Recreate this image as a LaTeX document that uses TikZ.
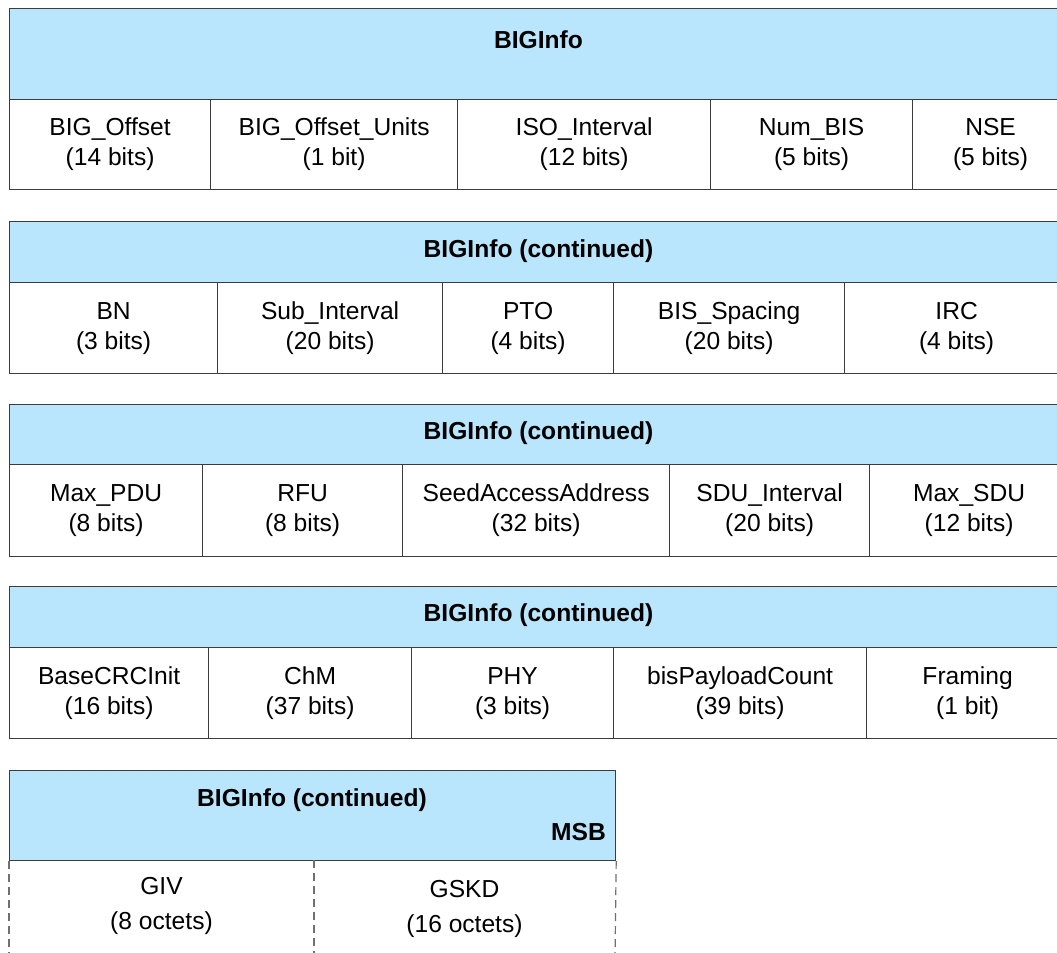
\documentclass[tikz,border=0pt]{standalone}
\usepackage{fontspec}
\setmainfont{Liberation Sans}
\usepackage{tikz}
\usetikzlibrary{positioning}
\definecolor{hdrblue}{HTML}{B9E6FC}
\definecolor{cellline}{HTML}{3C3C3C}
\definecolor{gapgray}{HTML}{707070}

\begin{document}
\begin{tikzpicture}[x=0.5pt,y=-0.5pt]
\tikzstyle{fieldcell}=[draw=cellline,line width=0.6pt,align=center,inner sep=0pt,font=\fontsize{12.3}{15}\selectfont,anchor=north west]
\tikzstyle{headerbar}=[fieldcell,fill=hdrblue]
\tikzstyle{headertitle}=[inner sep=0pt,font=\fontsize{12.3}{15}\selectfont\bfseries]
\tikzstyle{octetfield}=[align=center,inner sep=0pt,font=\fontsize{12.3}{17.5}\selectfont]
\tikzstyle{gapline}=[draw=gapgray,line width=0.6pt,dash pattern=on 4pt off 2.5pt]
\newcommand{\bigfield}[6]{%
\node[fieldcell,minimum width={(#3-#2)*0.5pt},minimum height={(#5-#4)*0.5pt}] (#1) at (#2,#4) {#6};
}
\newcommand{\bigheader}[4]{%
\node[headerbar,minimum width={(#2-9)*0.5pt},minimum height={(#4-#3)*0.5pt}] (#1) at (9,#3) {};
}
\useasboundingbox (0,0) rectangle (1057,953);
\clip (0,0) rectangle (1057,953);

% first word
\bigheader{hdrA}{1068}{8}{99}
\node[headertitle] (titleA) at (538.5,40) {BIGInfo};
\bigfield{offset}{9}{210}{99}{189}{BIG\_Offset\\(14 bits)}
\bigfield{offsetunits}{210}{457}{99}{189}{BIG\_Offset\_Units\\(1 bit)}
\bigfield{isointerval}{457}{710}{99}{189}{ISO\_Interval\\(12 bits)}
\bigfield{numbis}{710}{912}{99}{189}{Num\_BIS\\(5 bits)}
\bigfield{nse}{912}{1068}{99}{189}{NSE\\(5 bits)}

% second word
\bigheader{hdrB}{1068}{221}{282}
\node[headertitle] (titleB) at (538.5,251) {BIGInfo (continued)};
\bigfield{bn}{9}{217}{282}{373}{BN\\(3 bits)}
\bigfield{subinterval}{217}{442}{282}{373}{Sub\_Interval\\(20 bits)}
\bigfield{pto}{442}{613}{282}{373}{PTO\\(4 bits)}
\bigfield{bisspacing}{613}{844}{282}{373}{BIS\_Spacing\\(20 bits)}
\bigfield{irc}{844}{1068}{282}{373}{IRC\\(4 bits)}

% third word
\bigheader{hdrC}{1068}{404}{464}
\node[headertitle] (titleC) at (538.5,433) {BIGInfo (continued)};
\bigfield{maxpdu}{9}{202}{464}{556}{Max\_PDU\\(8 bits)}
\bigfield{rfu}{202}{402}{464}{556}{RFU\\(8 bits)}
\bigfield{seedaa}{402}{669}{464}{556}{SeedAccessAddress\\(32 bits)}
\bigfield{sduinterval}{669}{869}{464}{556}{SDU\_Interval\\(20 bits)}
\bigfield{maxsdu}{869}{1068}{464}{556}{Max\_SDU\\(12 bits)}

% fourth word
\bigheader{hdrD}{1068}{586}{647}
\node[headertitle] (titleD) at (538.5,615) {BIGInfo (continued)};
\bigfield{basecrc}{9}{208}{647}{738}{BaseCRCInit\\(16 bits)}
\bigfield{chm}{208}{411}{647}{738}{ChM\\(37 bits)}
\bigfield{phy}{411}{613}{647}{738}{PHY\\(3 bits)}
\bigfield{payloadcount}{613}{866}{647}{738}{bisPayloadCount\\(39 bits)}
\bigfield{framing}{866}{1068}{647}{738}{Framing\\(1 bit)}

% last word, open at the bottom
\bigheader{hdrE}{615}{770}{860}
\node[headertitle] (titleE) at (312,800) {BIGInfo (continued)};
\node[headertitle,above left=10pt and 5pt of hdrE.south east,anchor=south east] (msb) {MSB};
\node[octetfield] (giv) at (161.5,906) {GIV\\(8 octets)};
\node[octetfield] (gskd) at (464.5,909) {GSKD\\(16 octets)};
\coordinate (gapL) at (9,960);
\coordinate (gapM) at (314,960);
\coordinate (gapR) at (615,960);
\draw[gapline] (hdrE.south west) -- (gapL);
\draw[gapline] (314,860) -- (gapM);
\draw[gapline] (hdrE.south east) -- (gapR);
\end{tikzpicture}
\end{document}
